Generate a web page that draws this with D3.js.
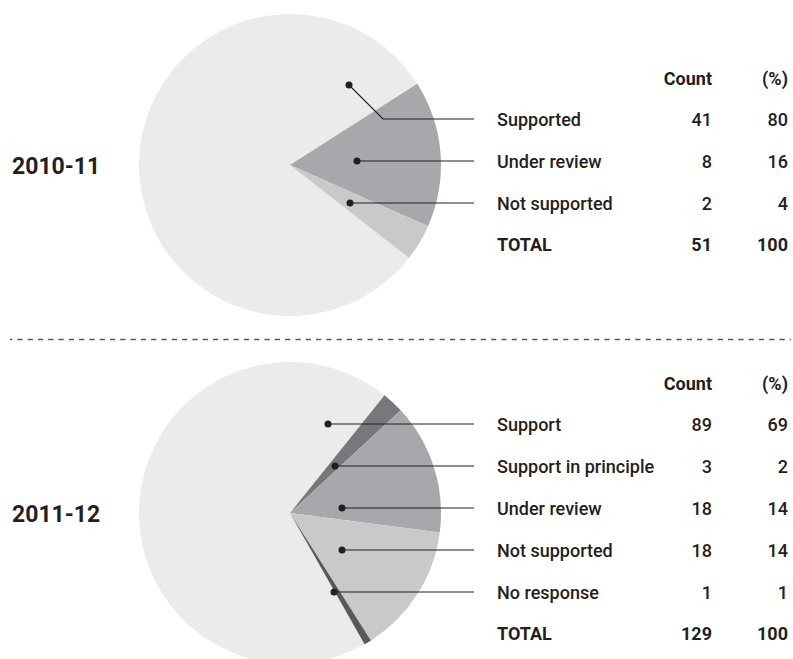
<!DOCTYPE html>
<html>
<head>
<meta charset="utf-8">
<script src="https://cdn.jsdelivr.net/npm/d3@7/dist/d3.min.js"></script>
<style>
  html, body { margin: 0; padding: 0; background: #ffffff; }
  svg { display: block; }
  text { font-family: Roboto, "Open Sans", sans-serif; fill: #231f20; }
</style>
</head>
<body>
<svg id="chart" width="793" height="659"></svg>
<script>
// Recommendation responses by year
const years = ["2010-11", "2011-12"];

const categories2010 = ["Supported", "Under review", "Not supported"];
const counts2010 = [41, 8, 2];
const percents2010 = [80, 16, 4];
const total2010 = { count: 51, pct: 100 };

const categories2011 = ["Support", "Support in principle", "Under review", "Not supported", "No response"];
const counts2011 = [89, 3, 18, 18, 1];
const percents2011 = [69, 2, 14, 14, 1];
const total2011 = { count: 129, pct: 100 };

const columnHeads = ["Count", "(%)"];
const totalLabel = "TOTAL";

// Slice fills per category
const fills2010 = ["#ebebec", "#a7a8ab", "#c8c9cb"];
const fills2011 = ["#ebebec", "#77787b", "#a7a8ab", "#c8c9cb", "#58595b"];

// Callout anchors: horizontal offset of the dot from the pie centre,
// and how far above its row the dot sits (leader bends at 45°)
const callouts2010 = [{ dx: 59, rise: 34 }, { dx: 67, rise: 0 }, { dx: 60, rise: 0 }];
const callouts2011 = [{ dx: 38, rise: 0 }, { dx: 45, rise: 0 }, { dx: 52, rise: 0 }, { dx: 52, rise: 0 }, { dx: 44, rise: 0 }];

const svg = d3.select("#chart");
const deg = Math.PI / 180;
const radius = 151;
const leaderEndX = 474;
const labelX = 497;
const countX = 712;
const pctX = 788;
const rowStep = 42;

const arc = d3.arc().innerRadius(0).outerRadius(radius);

function drawPanel(cfg) {
  const g = svg.append("g");
  const pie = d3.pie().sort(null).value(d => d)
    .startAngle(cfg.start * deg).endAngle(cfg.start * deg + 2 * Math.PI);
  const arcs = pie(cfg.counts);

  const pieG = g.append("g").attr("transform", `translate(${cfg.cx},${cfg.cy})`);
  pieG.selectAll("path").data(arcs).join("path")
    .attr("d", arc)
    .attr("fill", (d, i) => cfg.fills[i]);

  // Year label
  g.append("text")
    .attr("x", 12).attr("y", cfg.cy + 8.5)
    .attr("font-size", 23).attr("font-weight", 700)
    .text(cfg.year);

  // Table rows
  const rowY = d3.range(cfg.categories.length).map(i => cfg.firstRow + i * rowStep);
  const headY = cfg.firstRow - 41;
  const totalY = rowY[rowY.length - 1] + 41;

  // Header
  g.append("text").attr("x", countX).attr("y", headY + 7)
    .attr("text-anchor", "end").attr("font-size", 18).attr("font-weight", 700)
    .text(columnHeads[0]);
  g.append("text").attr("x", pctX).attr("y", headY + 7)
    .attr("text-anchor", "end").attr("font-size", 18).attr("font-weight", 700)
    .text(columnHeads[1]);

  cfg.categories.forEach((c, i) => {
    const y = rowY[i];
    g.append("text").attr("x", labelX).attr("y", y + 7)
      .attr("font-size", 18).attr("font-weight", 500).text(c);
    g.append("text").attr("x", countX).attr("y", y + 7)
      .attr("text-anchor", "end").attr("font-size", 18).attr("font-weight", 500)
      .text(cfg.counts[i]);
    g.append("text").attr("x", pctX).attr("y", y + 7)
      .attr("text-anchor", "end").attr("font-size", 18).attr("font-weight", 500)
      .text(cfg.percents[i]);

    // Leader line and dot
    const co = cfg.callouts[i];
    const dotX = cfg.cx + co.dx;
    const dotY = y - co.rise;
    const pts = [[dotX, dotY], [dotX + co.rise, y], [leaderEndX, y]];
    g.append("path")
      .attr("d", d3.line()(pts))
      .attr("fill", "none").attr("stroke", "#231f20").attr("stroke-width", 1.1);
    g.append("circle").attr("cx", dotX).attr("cy", dotY).attr("r", 3.5)
      .attr("fill", "#231f20");
  });

  // Total row
  g.append("text").attr("x", labelX).attr("y", totalY + 7)
    .attr("font-size", 18).attr("font-weight", 700).text(totalLabel);
  g.append("text").attr("x", countX).attr("y", totalY + 7)
    .attr("text-anchor", "end").attr("font-size", 18).attr("font-weight", 700)
    .text(cfg.total.count);
  g.append("text").attr("x", pctX).attr("y", totalY + 7)
    .attr("text-anchor", "end").attr("font-size", 18).attr("font-weight", 700)
    .text(cfg.total.pct);
}

drawPanel({
  year: years[0], cx: 290, cy: 165, start: 128,
  categories: categories2010, counts: counts2010, percents: percents2010,
  total: total2010, fills: fills2010, callouts: callouts2010, firstRow: 119
});

drawPanel({
  year: years[1], cx: 290, cy: 513, start: 150.4,
  categories: categories2011, counts: counts2011, percents: percents2011,
  total: total2011, fills: fills2011, callouts: callouts2011, firstRow: 424
});

// Dashed divider between the two years
svg.append("line")
  .attr("x1", 10).attr("x2", 791).attr("y1", 339.5).attr("y2", 339.5)
  .attr("stroke", "#58595b").attr("stroke-width", 1.6)
  .attr("stroke-dasharray", "5.2,5.1").attr("stroke-dashoffset", 3);
</script>
</body>
</html>
